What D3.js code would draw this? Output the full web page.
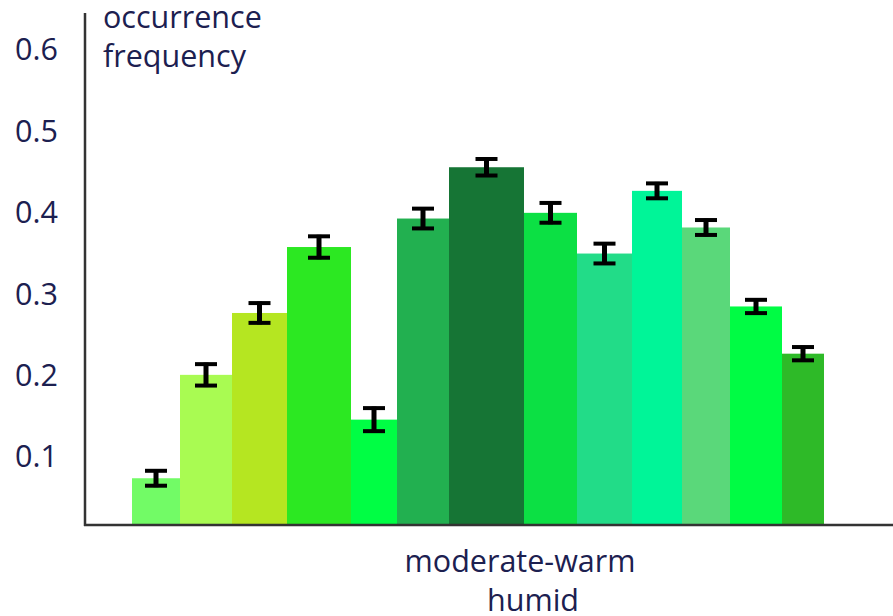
<!DOCTYPE html>
<html>
<head>
<meta charset="utf-8">
<script src="https://cdn.jsdelivr.net/npm/d3@7"></script>
<style>
    body { margin: 0; background: #fff; }
    text { font-family: "Open Sans", sans-serif; fill: #1c2050; }
</style>
</head>
<body>
<div id="chart"></div>
<script>
// occurrence frequency per class
const values = [0.074, 0.201, 0.277, 0.358, 0.146, 0.393, 0.456, 0.400, 0.350, 0.427, 0.382, 0.285, 0.227];
const errors = [0.011, 0.015, 0.014, 0.015, 0.016, 0.014, 0.012, 0.014, 0.014, 0.011, 0.011, 0.010, 0.010];
// relative width of each bar (bars are not all equal)
const binWidths = [48, 52, 55, 64, 46, 52, 75, 53, 55, 50, 48, 52, 42];
const colors = ["#72fb66", "#a9fb52", "#b5e621", "#2ce822", "#00fe44", "#22b050", "#167535",
                "#0ce044", "#22dc88", "#00f598", "#5ad87a", "#00fc44", "#2eba28"];
const yTicks = [0.1, 0.2, 0.3, 0.4, 0.5, 0.6];
const yLabel = ["occurrence", "frequency"];
const xLabel = ["moderate-warm", "humid"];

const width = 893, height = 616;
const axisX = 85, baseY = 525, topY = 13;
const fontSize = "30.5px";

const svg = d3.select("#chart")
    .append("svg")
    .attr("width", width)
    .attr("height", height);

// cumulative positions of bar edges
const edges = [0];
binWidths.forEach(function(w) { edges.push(edges[edges.length - 1] + w); });

const x = d3.scaleLinear()
    .domain([0, edges[edges.length - 1]])
    .range([132, 824]);

// axis floor sits a little above zero
const y = d3.scaleLinear()
    .domain([0, 0.6])
    .range([538.5, 50]);

const data = values.map(function(v, i) {
    return { value: v, err: errors[i], x0: edges[i], x1: edges[i + 1], color: colors[i] };
});

// bars
svg.append("g")
    .selectAll("rect")
    .data(data)
    .enter()
    .append("rect")
    .attr("x", function(d) { return x(d.x0); })
    .attr("width", function(d) { return x(d.x1) - x(d.x0); })
    .attr("y", function(d) { return y(d.value); })
    .attr("height", function(d) { return baseY - y(d.value); })
    .style("fill", function(d) { return d.color; });

// error bars as I-beams
const eb = svg.append("g")
    .selectAll("g")
    .data(data)
    .enter()
    .append("g")
    .attr("transform", function(d) { return "translate(" + (x(d.x0) + x(d.x1)) / 2 + ",0)"; });

eb.append("line")
    .attr("y1", function(d) { return y(d.value + d.err); })
    .attr("y2", function(d) { return y(d.value - d.err); })
    .style("stroke", "#000")
    .style("stroke-width", 5);

eb.selectAll(".cap")
    .data(function(d) { return [d.value + d.err, d.value - d.err]; })
    .enter()
    .append("line")
    .attr("class", "cap")
    .attr("x1", -11)
    .attr("x2", 11)
    .attr("y1", function(v, i) { return y(v) + (i === 0 ? 1.5 : -1.5); })
    .attr("y2", function(v, i) { return y(v) + (i === 0 ? 1.5 : -1.5); })
    .style("stroke", "#000")
    .style("stroke-width", 4);

// axes
const yAxis = d3.axisLeft(y)
    .tickValues(yTicks)
    .tickSize(0)
    .tickPadding(0)
    .tickFormat(d3.format(".1f"));

const gy = svg.append("g")
    .attr("transform", "translate(58,0)")
    .call(yAxis);
gy.select(".domain").remove();
gy.selectAll("text")
    .style("font-size", fontSize)
    .style("font-family", "'Open Sans', sans-serif")
    .style("fill", "#1c2050");

svg.append("line")
    .attr("x1", axisX).attr("x2", axisX)
    .attr("y1", topY).attr("y2", baseY + 1)
    .style("stroke", "#333").style("stroke-width", 2.5);

svg.append("line")
    .attr("x1", axisX - 1).attr("x2", width)
    .attr("y1", baseY).attr("y2", baseY)
    .style("stroke", "#333").style("stroke-width", 2.5);

// axis titles
svg.append("g")
    .selectAll("text")
    .data(yLabel)
    .enter()
    .append("text")
    .attr("x", 103)
    .attr("y", function(d, i) { return 28 + i * 39; })
    .style("font-size", fontSize)
    .text(function(d) { return d; });

svg.append("g")
    .selectAll("text")
    .data(xLabel)
    .enter()
    .append("text")
    .attr("x", function(d, i) { return i === 0 ? 520 : 533; })
    .attr("y", function(d, i) { return 572 + i * 39; })
    .attr("text-anchor", "middle")
    .style("font-size", fontSize)
    .text(function(d) { return d; });
</script>
</body>
</html>
